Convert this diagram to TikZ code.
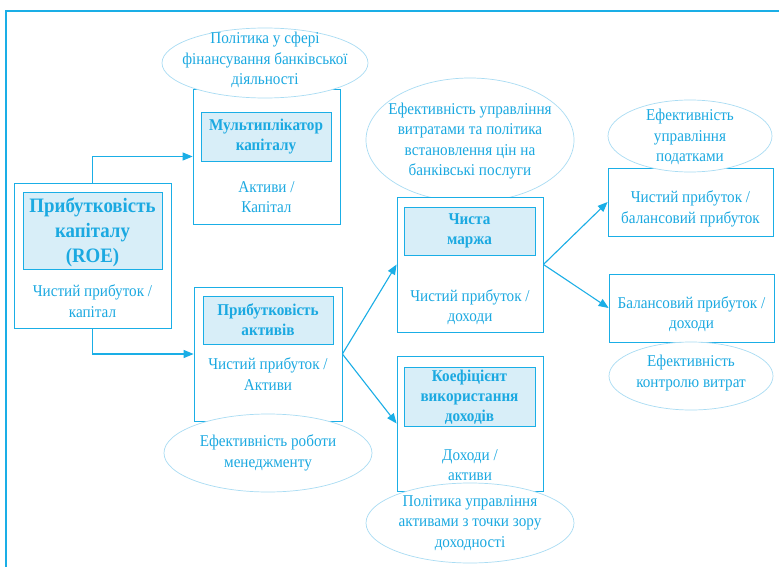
\documentclass[tikz,border=0pt]{standalone}
\usepackage{fontspec}
\setmainfont{Liberation Serif}[FakeStretch=0.92]
\usetikzlibrary{arrows.meta,shapes.geometric}
\definecolor{cy}{HTML}{1AAEE6}
\definecolor{cytext}{HTML}{1BA9E1}
\definecolor{cylight}{HTML}{A9DCF3}
\definecolor{shade}{HTML}{D8EEF8}
\tikzset{
  outerbox/.style={draw=cy, line width=0.8pt, fill=white},
  innerbox/.style={draw=cy, line width=0.8pt, fill=shade},
  txt/.style={text=cytext, align=center, font=\fontsize{16.5}{20.5}\selectfont, inner sep=0pt},
  btxt/.style={text=cytext, align=center, font=\fontsize{16.5}{20}\selectfont\bfseries, inner sep=0pt},
  oval/.style={ellipse, draw=cylight, line width=0.7pt, fill=white, inner sep=0pt},
  conn/.style={draw=cy, line width=1.1pt, -{Triangle[length=10pt,width=8pt]}},
}
\begin{document}
\begin{tikzpicture}[x=1pt,y=-1pt]
\useasboundingbox (0,0) rectangle (779,567);
\fill[white] (0,0) rectangle (779,567);
% frame
\coordinate (fa) at (6,567);
\coordinate (fb) at (6,11);
\coordinate (fc) at (782,11);
\draw[cy, line width=2.6pt] (fa) -- (fb) -- (fc);

% ROE
\node[outerbox, minimum width=157pt, minimum height=145pt] (roe) at (92.5,255.5) {};
\node[innerbox, minimum width=139pt, minimum height=77pt] (roei) at (92.5,230.5) {};
\node[txt, font=\fontsize{20.5}{25}\selectfont\bfseries] (roet) at (92.5,232) {Прибутковість\\капіталу\\(ROE)};
\node[txt] (roef) at (92.5,301) {Чистий прибуток /\\капітал};

% Multiplier
\node[outerbox, minimum width=147pt, minimum height=135pt] (mul) at (266.5,156.5) {};
\node[innerbox, minimum width=130pt, minimum height=49pt] (muli) at (266,136.5) {};
\node[btxt] (mult) at (266,137) {Мультиплікатор\\капіталу};
\node[txt] (mulf) at (266.5,197) {Активи /\\Капітал};
\node[oval, minimum width=206pt, minimum height=70pt] (e1) at (265,63) {};
\node[txt] (e1t) at (265,60) {Політика у сфері\\фінансування банківської\\діяльності};

% Return on assets
\node[outerbox, minimum width=148pt, minimum height=134pt] (pa) at (268,354) {};
\node[innerbox, minimum width=130pt, minimum height=48pt] (pai) at (268,320) {};
\node[btxt] (pat) at (268,320) {Прибутковість\\активів};
\node[txt] (paf) at (268,374) {Чистий прибуток /\\Активи};
\node[oval, minimum width=208pt, minimum height=78pt] (e2) at (268,453) {};
\node[txt] (e2t) at (268,453) {Ефективність роботи\\менеджменту};

% Net margin
\node[oval, minimum width=208pt, minimum height=124pt] (e3) at (470,140) {};
\node[txt] (e3t) at (470,141) {Ефективність управління\\витратами та політика\\встановлення цін на\\банківські послуги};
\node[outerbox, minimum width=146pt, minimum height=135pt] (cm) at (470,264.5) {};
\node[innerbox, minimum width=131pt, minimum height=48pt] (cmi) at (469.5,231) {};
\node[btxt] (cmt) at (469.5,231) {Чиста\\маржа};
\node[txt] (cmf) at (470,307) {Чистий прибуток /\\доходи};

% Asset utilisation
\node[outerbox, minimum width=146pt, minimum height=135pt] (kv) at (470,423.5) {};
\node[innerbox, minimum width=131pt, minimum height=59pt] (kvi) at (469.5,396.5) {};
\node[btxt] (kvt) at (469.5,397) {Коефіцієнт\\використання\\доходів};
\node[txt] (kvf) at (470,465) {Доходи /\\активи};
\node[oval, minimum width=208pt, minimum height=80pt] (e4) at (470,523) {};
\node[txt] (e4t) at (470,523) {Політика управління\\активами з точки зору\\доходності};

% Right column
\node[outerbox, minimum width=165pt, minimum height=68pt] (np) at (690.5,202) {};
\node[txt] (npt) at (690.5,209) {Чистий прибуток /\\балансовий прибуток};
\node[oval, minimum width=164pt, minimum height=72pt] (e5) at (690,136) {};
\node[txt] (e5t) at (690,137) {Ефективність\\управління\\податками};

\node[outerbox, minimum width=165pt, minimum height=68pt] (bp) at (691.5,308) {};
\node[txt] (bpt) at (691.5,314) {Балансовий прибуток /\\доходи};
\node[oval, minimum width=164pt, minimum height=68pt] (e6) at (691,376) {};
\node[txt] (e6t) at (691,373) {Ефективність\\контролю витрат};

% connectors
\draw[conn] (roe.north) |- (mul.west);
\draw[conn] (roe.south) |- (pa.west);
\draw[conn] (pa.east) -- (cm.west);
\draw[conn] (pa.east) -- (kv.west);
\draw[conn] (cm.east) -- (np.west);
\draw[conn] (cm.east) -- (bp.west);
\end{tikzpicture}
\end{document}
